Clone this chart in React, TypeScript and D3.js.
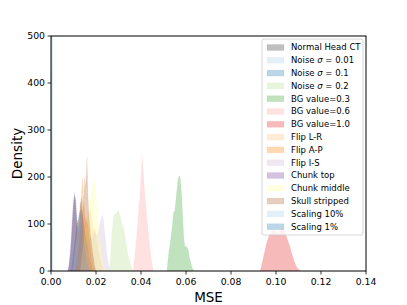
import React from "react";
import * as d3 from "d3";

const width = 407;
const height = 305;
const margin = { top: 36, right: 41, bottom: 34, left: 51 };
const innerW = width - margin.left - margin.right;
const innerH = height - margin.top - margin.bottom;

// x ticks / y ticks
const xTicks = [0, 0.02, 0.04, 0.06, 0.08, 0.1, 0.12, 0.14];
const yTicks = [0, 100, 200, 300, 400, 500];

// series labels, colours (Paired palette)
const labels = [
  "Normal Head CT",
  "Noise σ = 0.01",
  "Noise σ = 0.1",
  "Noise σ = 0.2",
  "BG value=0.3",
  "BG value=0.6",
  "BG value=1.0",
  "Flip L-R",
  "Flip A-P",
  "Flip I-S",
  "Chunk top",
  "Chunk middle",
  "Skull stripped",
  "Scaling 10%",
  "Scaling 1%",
];
const colors = [
  "#808080",
  "#a6cee3",
  "#1f78b4",
  "#b2df8a",
  "#33a02c",
  "#fb9a99",
  "#e31a1c",
  "#fdbf6f",
  "#ff7f00",
  "#cab2d6",
  "#6a3d9a",
  "#ffff99",
  "#b15928",
  "#a6cee3",
  "#1f78b4",
];

// histogram densities: first bin edge + density per bin
const normalStart = 0.0075;
const normalDensity = [0, 10, 30, 60, 100, 140, 160, 150, 110, 90, 110, 140, 155, 125, 100, 80, 70, 60, 45, 30, 20, 12, 6, 0];
const noise001Start = 0.0002;
const noise001Density = [0, 800, 1100, 900, 0];
const noise01Start = 0.009;
const noise01Density = [0, 20, 40, 60, 80, 100, 110, 120, 130, 110, 90, 70, 50, 35, 20, 10, 0];
const noise02Start = 0.026;
const noise02Density = [0, 35, 75, 105, 118, 122, 124, 126, 130, 122, 112, 102, 96, 88, 72, 56, 42, 30, 20, 12, 6, 0];
const bg03Start = 0.0515;
const bg03Density = [0, 25, 45, 60, 80, 100, 125, 128, 150, 175, 195, 203, 195, 165, 120, 72, 52, 52, 50, 45, 30, 20, 10, 4, 0];
const bg06Start = 0.0365;
const bg06Density = [0, 20, 45, 70, 100, 135, 160, 200, 246, 215, 175, 150, 120, 95, 70, 50, 30, 12, 0];
const bg10Start = 0.093;
const bg10Density = [0, 20, 42, 62, 76, 84, 90, 84, 80, 88, 92, 82, 68, 54, 38, 22, 10, 3, 0];
const flipLRStart = 0.012;
const flipLRDensity = [0, 15, 30, 50, 70, 90, 105, 115, 100, 110, 125, 130, 115, 100, 85, 90, 75, 55, 40, 30, 20, 12, 6, 2, 0];
const flipAPStart = 0.01;
const flipAPDensity = [0, 20, 50, 90, 110, 100, 130, 160, 200, 150, 120, 100, 110, 90, 70, 50, 30, 15, 5, 0];
const flipISStart = 0.014;
const flipISDensity = [0, 10, 25, 40, 50, 60, 65, 70, 75, 70, 80, 85, 80, 75, 85, 95, 105, 115, 120, 100, 75, 50, 30, 15, 5, 0];
const chunkTopStart = 0.0075;
const chunkTopDensity = [0, 15, 40, 75, 120, 150, 168, 140, 100, 80, 95, 120, 130, 100, 70, 50, 35, 20, 10, 0];
const chunkMidStart = 0.013;
const chunkMidDensity = [0, 20, 40, 60, 80, 100, 120, 140, 160, 150, 170, 185, 180, 200, 160, 130, 100, 80, 60, 40, 25, 12, 0];
const skullStart = 0.011;
const skullDensity = [0, 15, 35, 60, 80, 100, 120, 150, 200, 180, 243, 150, 110, 80, 60, 40, 25, 10, 0];
const scale10Start = 0.0095;
const scale10Density = [0, 15, 35, 55, 75, 95, 110, 125, 115, 100, 80, 60, 40, 25, 12, 0];
const scale1Start = 0.0;
const scale1Density = [0, 1500, 1500, 0];

const starts = [normalStart, noise001Start, noise01Start, noise02Start, bg03Start, bg06Start, bg10Start, flipLRStart, flipAPStart, flipISStart, chunkTopStart, chunkMidStart, skullStart, scale10Start, scale1Start];
const binWidths = [0.0005, 0.0002, 0.0005, 0.0005, 0.0005, 0.0005, 0.001, 0.0005, 0.0005, 0.0005, 0.0005, 0.0005, 0.0005, 0.0005, 0.00015];
const densities = [normalDensity, noise001Density, noise01Density, noise02Density, bg03Density, bg06Density, bg10Density, flipLRDensity, flipAPDensity, flipISDensity, chunkTopDensity, chunkMidDensity, skullDensity, scale10Density, scale1Density];

const x = d3.scaleLinear().domain([0, 0.14]).range([0, innerW]);
const y = d3.scaleLinear().domain([0, 500]).range([innerH, 0]);

const area = d3
  .area<[number, number]>()
  .x((d) => x(d[0]))
  .y0(innerH)
  .y1((d) => y(d[1]))
  .curve(d3.curveLinear);

const font = "DejaVu Sans, sans-serif";

const Label = ({ text }: { text: string }) => {
  const parts = text.split("σ");
  if (parts.length === 1) return <>{text}</>;
  return (
    <>
      {parts[0]}
      <tspan fontStyle="italic">σ</tspan>
      {parts[1]}
    </>
  );
};

export default function App() {
  const legendX = 262;
  const legendY = 39;
  const rowH = 12.8;

  return (
    <div style={{ position: "absolute", left: 0, top: 0 }}>
      <svg width={width} height={height} style={{ display: "block", background: "white" }}>
        <defs>
          <clipPath id="plot-clip">
            <rect x={0} y={0} width={innerW} height={innerH} />
          </clipPath>
        </defs>
        <g transform={`translate(${margin.left},${margin.top})`}>
          <g clipPath="url(#plot-clip)">
            {densities.map((vals, i) => {
              const pts: [number, number][] = vals.map((v, j) => [starts[i] + j * binWidths[i], v]);
              const op = i === 0 ? 0.5 : 0.3;
              return (
                <path
                  key={labels[i]}
                  d={area(pts) || ""}
                  fill={colors[i]}
                  fillOpacity={op}
                  stroke={colors[i]}
                  strokeOpacity={op * 0.6}
                  strokeWidth={0.5}
                  strokeDasharray="1.5,1"
                />
              );
            })}
          </g>

          {/* axes frame */}
          <rect x={0} y={0} width={innerW} height={innerH} fill="none" stroke="black" strokeWidth={1} />

          {xTicks.map((t) => (
            <g key={t} transform={`translate(${x(t)},${innerH})`}>
              <line y2={3.5} stroke="black" strokeWidth={0.8} />
              <text y={13.5} textAnchor="middle" fontFamily={font} fontSize={9.3}>
                {t.toFixed(2)}
              </text>
            </g>
          ))}
          {yTicks.map((t) => (
            <g key={t} transform={`translate(0,${y(t)})`}>
              <line x2={-3.5} stroke="black" strokeWidth={0.8} />
              <text x={-6} dy="0.32em" textAnchor="end" fontFamily={font} fontSize={9.3}>
                {t}
              </text>
            </g>
          ))}

          <text x={innerW / 2} y={innerH + 30.5} textAnchor="middle" fontFamily={font} fontSize={13.5}>
            MSE
          </text>
          <text
            transform={`translate(${-29},${innerH / 2}) rotate(-90)`}
            textAnchor="middle"
            fontFamily={font}
            fontSize={13.5}
          >
            Density
          </text>
        </g>

        {/* legend */}
        <g transform={`translate(${legendX},${legendY})`}>
          <rect
            x={0}
            y={0}
            width={101}
            height={196}
            rx={2}
            fill="white"
            fillOpacity={0.8}
            stroke="#cccccc"
            strokeWidth={0.8}
          />
          {labels.map((lab, i) => {
            const cy = 8.5 + i * rowH;
            const op = i === 0 ? 0.5 : 0.3;
            return (
              <g key={lab} transform={`translate(0,${cy})`}>
                <rect
                  x={5}
                  y={-3}
                  width={17}
                  height={6}
                  fill={colors[i]}
                  fillOpacity={op}
                  stroke={colors[i]}
                  strokeOpacity={op * 0.6}
                  strokeWidth={0.5}
                  strokeDasharray="1.5,1"
                />
                <text x={29} dy="0.35em" fontFamily={font} fontSize={8.5}>
                  <Label text={lab} />
                </text>
              </g>
            );
          })}
        </g>
      </svg>
    </div>
  );
}
